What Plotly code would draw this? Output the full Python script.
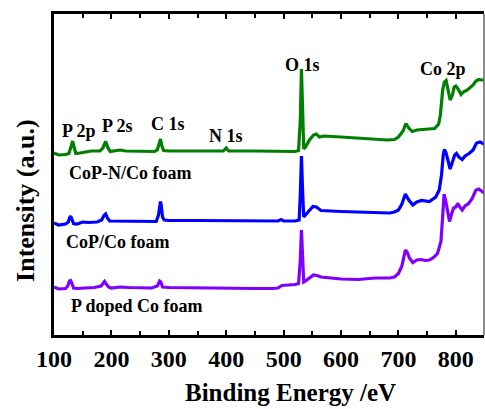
import plotly.graph_objects as go

# XPS survey spectra (binding energy in eV, intensity in a.u., stacked)
be_green = [100, 108, 120, 126, 130, 132.5, 135, 138, 145, 155, 165, 180, 185, 190, 194, 198, 205, 215, 225, 250,
            275, 280, 283, 285.5, 288, 291, 300, 350, 395, 400, 404, 450, 500, 520, 526, 529, 531, 533, 535, 538,
            545, 552, 557, 562, 570, 600, 650, 680, 693, 700, 708, 713, 718, 724, 732, 739, 750, 763, 770, 773,
            777, 780, 783, 786, 790, 794, 797, 800, 804, 809, 813, 820, 826, 830, 835, 840, 845, 849]
int_green = [182, 180, 180.5, 181.5, 189, 194, 188, 181.5, 182, 183, 184, 184, 187, 193.5, 187, 183.5, 184, 185, 184, 183.5,
             183.5, 185, 191, 196, 189, 184.5, 184, 184, 184, 187, 184, 184, 183.5, 183.5, 184.5, 215, 266, 225, 186, 188,
             195, 200, 201, 198, 199, 198, 196.5, 195, 195.5, 198, 204, 211.5, 207, 203.5, 205, 205.5, 206, 206.5, 211, 220,
             245, 253, 254.5, 247, 235, 240, 248, 249, 246, 240.5, 243, 245, 248, 250, 254, 255.5, 255, 255]

be_blue = [100, 108, 120, 125, 127, 129, 131, 134, 140, 150, 160, 175, 183, 187, 190, 193, 197, 210, 250, 278,
           282, 284, 285.5, 287, 289, 292, 300, 350, 400, 450, 490, 496, 500, 520, 527, 529, 531, 533, 535, 538,
           545, 551, 557, 565, 600, 650, 667, 685, 693, 700, 706, 712, 718, 725, 732, 740, 754, 765, 771, 775,
           778, 780, 783, 787, 790, 794, 798, 801, 805, 811, 816, 823, 830, 836, 842, 849]
int_blue = [112, 110, 111, 113, 117, 119, 116, 111.5, 111, 113, 112.5, 113, 115, 119.5, 121, 117, 114, 114, 113.5, 113.5,
            120, 130, 133.5, 129, 118, 115, 114.5, 114.5, 114.5, 114, 114, 115.5, 114, 114, 115, 140, 179, 145, 118, 120,
            125, 128.5, 128, 124.5, 123.5, 122.5, 122.5, 122, 123, 125, 131, 141, 135, 130, 133, 134.5, 133.5, 138, 145, 160,
            180, 185.5, 182, 172, 166, 173, 180, 181.5, 178, 175.5, 179, 181.5, 185, 192, 193, 191]

be_purple = [100, 108, 120, 124, 127, 129, 131, 134, 140, 150, 170, 182, 186, 188, 191, 195, 200, 215, 230, 270,
             280, 284, 286, 289, 300, 350, 400, 450, 480, 490, 497, 510, 520, 526, 529, 531, 533, 535, 538, 545,
             552, 558, 565, 600, 630, 660, 685, 693, 700, 706, 712, 715, 719, 725, 732, 739, 747, 754, 762, 768,
             774, 776, 778, 779.5, 782, 786, 789, 792, 796, 800, 803, 807, 811, 816, 822, 828, 835, 840, 845, 849]
int_purple = [48, 46, 46.5, 49, 54, 54.5, 52, 47, 46.5, 47, 47.5, 49, 53, 53.5, 51, 48, 47, 48, 47.5, 47,
              49, 54, 53, 48, 47.5, 47, 46.5, 46.5, 46.5, 47, 49.5, 50, 50.5, 51.5, 75, 105, 70, 53, 54, 57,
              60, 59.5, 58, 56, 55.5, 57, 57, 58, 61.5, 69, 85, 83, 77, 72.5, 75, 75.5, 74.5, 75, 78, 81.5,
              93.5, 110, 135, 141, 135, 120, 113.5, 120, 127, 128, 131.5, 128, 125, 129, 131.5, 136, 145, 146, 144, 142]

# Peak assignments: (text, binding energy, intensity)
peak_labels = ["P 2p", "P 2s", "C 1s", "N 1s", "O 1s", "Co 2p"]
peak_x = [143.5, 211, 299, 399, 532, 777]
peak_y = [204, 209, 211.5, 199, 270.5, 266.5]

# Sample names
sample_labels = ["CoP-N/Co foam", "CoP/Co foam", "P doped Co foam"]
sample_x = [233, 211, 244]
sample_y = [162.5, 93.5, 29.5]

x_ticks = [100, 200, 300, 400, 500, 600, 700, 800]

FONT = "Liberation Serif, Times New Roman, serif"

fig = go.Figure()
for be, inten, color in [(be_green, int_green, "#008000"),
                         (be_blue, int_blue, "#0000ff"),
                         (be_purple, int_purple, "#8000ff")]:
    fig.add_trace(go.Scatter(x=be, y=inten, mode="lines",
                             line=dict(color=color, width=3.2), showlegend=False))

for t, x, y in zip(peak_labels, peak_x, peak_y):
    fig.add_annotation(x=x, y=y, text=f"<b>{t}</b>", showarrow=False,
                       font=dict(family=FONT, size=18, color="black"))
for t, x, y in zip(sample_labels, sample_x, sample_y):
    fig.add_annotation(x=x, y=y, text=f"<b>{t}</b>", showarrow=False,
                       font=dict(family=FONT, size=18, color="black"))

# Axis titles
fig.add_annotation(xref="paper", yref="paper", x=0.549, y=-0.18, yanchor="middle",
                   text="<b>Binding Energy /eV</b>", showarrow=False,
                   font=dict(family=FONT, size=25, color="black"))
fig.add_annotation(xref="paper", yref="paper", x=-0.068, y=0.42, xanchor="center",
                   text="<b>Intensity (a.u.)</b>", textangle=-90, showarrow=False,
                   font=dict(family=FONT, size=26, color="black"))

# Thin right frame edge
fig.add_shape(type="line", xref="paper", yref="paper", x0=1, x1=1, y0=0, y1=1,
              line=dict(color="#666666", width=1.5))

fig.update_xaxes(range=[100, 849], tickvals=x_ticks,
                 ticktext=[f"<b>{v}</b>" for v in x_ticks],
                 tickfont=dict(family=FONT, size=24, color="black"),
                 ticks="inside", ticklen=5, tickwidth=2, tickcolor="black",
                 minor=dict(ticks="inside", ticklen=4, tickwidth=2, tickcolor="black", dtick=50),
                 showline=True, linewidth=3, linecolor="black", mirror="ticks",
                 showgrid=False, zeroline=False)
fig.update_yaxes(range=[0, 321], showticklabels=False, ticks="",
                 showline=True, linewidth=3, linecolor="black",
                 showgrid=False, zeroline=False)

fig.update_layout(width=485, height=409,
                  margin=dict(l=54, r=1, t=14, b=74),
                  paper_bgcolor="white", plot_bgcolor="white")

fig.write_html("out.html")
